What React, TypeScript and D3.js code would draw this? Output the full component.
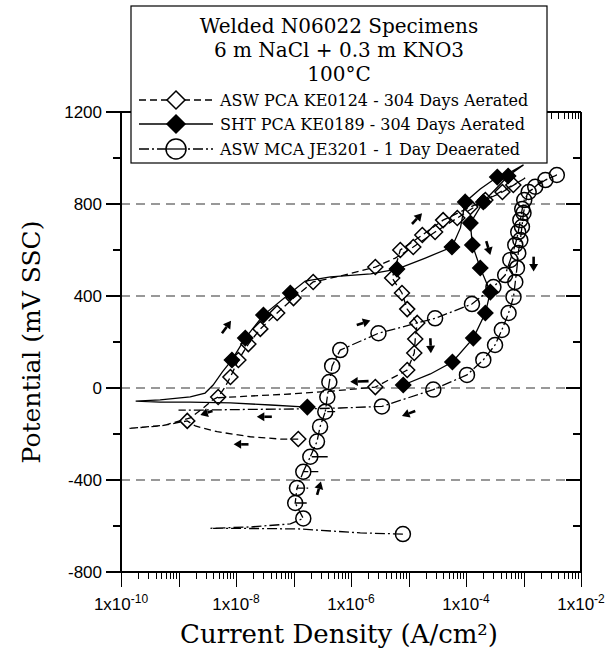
import React from 'react';
import * as d3 from 'd3';

// ---------- data ----------
const titleLines = ['Welded N06022 Specimens', '6 m NaCl + 0.3 m KNO3', '100°C'];
const seriesNames = [
  'ASW PCA KE0124 - 304 Days Aerated',
  'SHT PCA KE0189 - 304 Days Aerated',
  'ASW MCA JE3201 - 1 Day Deaerated',
];
const xLabelTicks = [1e-10, 1e-8, 1e-6, 1e-4, 1e-2];
const xLabelExps = ['-10', '-8', '-6', '-4', '-2'];
const yLabelTicks = [-800, -400, 0, 400, 800, 1200];
const yMinorTicks = [-600, -200, 200, 600, 1000];
const gridValues = [-400, 0, 400, 800];

// [current density A/cm², potential mV SSC, symbol shown (1) or not (0)]
const aswPca: number[][] = [
  [1.21e-7, -222, 1], [5.9e-8, -222, 0], [1.77e-8, -212, 0], [4.7e-9, -190, 0], [1.96e-9, -165, 0],
  [1.42e-9, -143, 1], [4.8e-10, -165, 0], [1.34e-10, -176, 0], [5.9e-10, -161, 0], [1.6e-9, -130, 0],
  [2.7e-9, -87, 0], [3.9e-9, -52, 0], [4.9e-9, -39, 1], [6.3e-9, 0, 0], [8.0e-9, 48, 1],
  [1.1e-8, 122, 1], [1.64e-8, 191, 1], [2.65e-8, 257, 1], [5.2e-8, 326, 1], [1.0e-7, 391, 1],
  [2.2e-7, 461, 1], [6.5e-7, 487, 0], [2.65e-6, 526, 1], [5.9e-6, 565, 0], [1.21e-5, 613, 1],
  [2.9e-5, 678, 1], [7.06e-5, 739, 1], [2.17e-4, 817, 1], [6.65e-4, 883, 1], [1.07e-3, 913, 0],
  [4.3e-4, 852, 1], [1.19e-4, 787, 1], [4.0e-5, 730, 1], [1.74e-5, 665, 1], [7.2e-6, 600, 1],
  [5.2e-6, 478, 1], [7.7e-6, 413, 1], [9.5e-6, 343, 1], [1.42e-5, 283, 1], [1.31e-5, 213, 1],
  [1.26e-5, 152, 1], [9.5e-6, 78, 1], [2.65e-6, 4, 1], [4.9e-7, -13, 0], [8.8e-8, -26, 0],
  [1.77e-8, -35, 0], [4.4e-9, -43, 0],
];
const shtPca: number[][] = [
  [1.74e-7, -83, 1], [4.0e-8, -74, 0], [8.0e-9, -65, 0], [1.6e-9, -61, 0], [4.8e-10, -61, 0],
  [1.8e-10, -57, 0], [4.8e-10, -52, 0], [1.6e-9, -39, 0], [2.9e-9, -22, 0], [4.0e-9, 13, 0],
  [5.8e-9, 70, 0], [8.5e-9, 122, 1], [1.45e-8, 217, 1], [3.0e-8, 317, 1], [8.8e-8, 413, 1],
  [1.6e-7, 465, 0], [4.4e-7, 483, 0], [2.2e-6, 496, 0], [6.3e-6, 517, 1], [1.96e-5, 565, 0],
  [5.7e-5, 613, 1], [8.0e-5, 696, 0], [9.7e-5, 809, 1], [1.77e-4, 865, 0], [3.5e-4, 917, 1],
  [6.4e-4, 943, 0], [1.0e-3, 970, 0],
  [5.4e-4, 922, 1], [2.0e-4, 809, 1], [1.19e-4, 717, 1], [1.29e-4, 622, 1], [1.77e-4, 522, 1],
  [2.65e-4, 417, 1], [2.17e-4, 326, 1], [1.34e-4, 217, 1], [5.8e-5, 113, 1], [2.4e-5, 61, 0],
  [8.1e-6, 13, 1],
];
const aswMca: number[][] = [
  [8.0e-6, -635, 1], [1.45e-6, -630, 0], [1.31e-7, -613, 0], [2.65e-8, -611, 0], [3.57e-9, -610, 0],
  [1.77e-8, -604, 0], [8.8e-8, -591, 0], [1.48e-7, -567, 1], [1.07e-7, -500, 1], [1.75e-7, -500, 0],
  [1.07e-7, -500, 0], [1.15e-7, -435, 1], [1.8e-7, -435, 0], [1.15e-7, -435, 0], [1.48e-7, -364, 1],
  [2.7e-7, -364, 0], [1.48e-7, -364, 0], [1.96e-7, -299, 1], [4.1e-7, -299, 0], [1.96e-7, -299, 0],
  [2.56e-7, -233, 1], [2.9e-7, -168, 1], [3.57e-7, -103, 1], [5.3e-7, -103, 0], [3.57e-7, -103, 0],
  [3.87e-7, -39, 1], [4.2e-7, 26, 1], [4.7e-7, 96, 1], [6.5e-7, 165, 1], [3.0e-6, 238, 1],
  [2.9e-5, 303, 1], [1.27e-4, 365, 1], [3.0e-4, 439, 1], [4.8e-4, 491, 1], [5.9e-4, 557, 1],
  [7.2e-4, 622, 1], [8.1e-4, 678, 1], [8.8e-4, 730, 1], [9.5e-4, 778, 1], [1.03e-3, 817, 1],
  [1.23e-3, 852, 1], [1.6e-3, 875, 1], [2.4e-3, 904, 1], [3.8e-3, 926, 1],
  [1.96e-3, 896, 0], [1.16e-3, 843, 0], [1.0e-3, 761, 1], [9.4e-4, 701, 1], [8.8e-4, 643, 1],
  [8.1e-4, 587, 1], [7.7e-4, 522, 1], [7.2e-4, 461, 1], [6.7e-4, 396, 1], [5.5e-4, 326, 1],
  [4.2e-4, 252, 1], [3.2e-4, 187, 1], [2.0e-4, 122, 1], [1.04e-4, 57, 1], [2.7e-5, -7, 1],
  [3.45e-6, -80, 1], [6.5e-7, -87, 0], [1.31e-7, -91, 0], [1.77e-8, -93, 0], [2.4e-9, -96, 0],
  [1.0e-9, -96, 0],
];

// scan-direction arrows: [i start, E start, i end, E end]
const arrows: number[][] = [
  [5.7e-9, 238, 8.2e-9, 292],
  [1.26e-6, 274, 2.17e-6, 293],
  [1.15e-5, 713, 1.72e-5, 760],
  [2.25e-4, 639, 2.65e-4, 578],
  [1.5e-3, 571, 1.5e-3, 506],
  [2.4e-5, 216, 2.45e-5, 151],
  [2.02e-6, 30, 9.7e-7, 27],
  [1.31e-5, -100, 7.7e-6, -122],
  [4.2e-8, -125, 2.3e-8, -125],
  [1.65e-8, -245, 9.1e-9, -245],
  [2.57e-7, -465, 3.0e-7, -407],
  [3.9e-9, -100, 2.4e-9, -117],
];

const series = [aswPca, shtPca, aswMca];
const styles = [
  { dash: '7,4', symbol: 'diamond', fill: 'none' },
  { dash: '', symbol: 'diamond', fill: '#000' },
  { dash: '10,3,2,3', symbol: 'circle', fill: 'none' },
];

const SERIF = '"DejaVu Serif", serif';
const SANS = '"Liberation Sans", Arial, sans-serif';

function Symbol({ kind, fill, cx, cy, s }: { kind: string; fill: string; cx: number; cy: number; s: number }) {
  if (kind === 'circle') {
    return <circle cx={cx} cy={cy} r={s} fill={fill} stroke="#000" strokeWidth={1.5} />;
  }
  return (
    <path
      d={`M${cx},${cy - s}L${cx + s},${cy}L${cx},${cy + s}L${cx - s},${cy}Z`}
      fill={fill}
      stroke="#000"
      strokeWidth={1.5}
    />
  );
}

export default function App() {
  const x = d3.scaleLog().domain([1e-10, 1e-2]).range([121, 581]);
  const y = d3.scaleLinear().domain([-800, 1200]).range([572, 112]);
  const line = d3.line<number[]>().x((d) => x(d[0])).y((d) => y(d[1]));
  const [x0, x1] = x.range();
  const [yb, yt] = y.range();

  const majorX = d3.range(-10, -1).map((e) => Math.pow(10, e));
  const minorX: number[] = [];
  d3.range(-10, -2).forEach((e) => {
    for (let k = 2; k <= 9; k++) minorX.push(k * Math.pow(10, e));
  });
  const px = (v: number) => Math.round(x(v)) + 0.5;

  const legRows = [100, 124, 149];
  const tickStyle = { stroke: '#000', strokeWidth: 1.2, shapeRendering: 'crispEdges' as const };

  return (
    <svg width={616} height={656} style={{ position: 'absolute', left: 0, top: 0, background: '#fff' }}>
      <rect x={0} y={0} width={616} height={656} fill="#fff" />
      {/* grid */}
      {gridValues.map((v) => (
        <line key={'g' + v} x1={x0} x2={x1} y1={y(v)} y2={y(v)} stroke="#333" strokeWidth={1.2} strokeDasharray="9,6" />
      ))}
      {/* frame */}
      <line x1={x0} x2={x1} y1={yb} y2={yb} {...tickStyle} />
      <line x1={x0} x2={x1} y1={yt} y2={yt} {...tickStyle} />
      <line x1={x0} x2={x0} y1={yt} y2={yb} {...tickStyle} />
      <line x1={x1} x2={x1} y1={yt} y2={yb} {...tickStyle} />
      {/* x ticks */}
      {majorX.map((v) => (
        <g key={'mx' + v}>
          <line x1={px(v)} x2={px(v)} y1={yb} y2={yb + 15} {...tickStyle} />
          <line x1={px(v)} x2={px(v)} y1={yt} y2={yt + 15} {...tickStyle} />
        </g>
      ))}
      {minorX.map((v) => (
        <g key={'nx' + v}>
          <line x1={px(v)} x2={px(v)} y1={yb} y2={yb + 7} {...tickStyle} />
          <line x1={px(v)} x2={px(v)} y1={yt} y2={yt + 7} {...tickStyle} />
        </g>
      ))}
      {/* y ticks */}
      {yLabelTicks.map((v) => (
        <g key={'my' + v}>
          <line x1={x0 - 15} x2={x0} y1={y(v)} y2={y(v)} {...tickStyle} />
          <line x1={x1 - 15} x2={x1} y1={y(v)} y2={y(v)} {...tickStyle} />
        </g>
      ))}
      {yMinorTicks.map((v) => (
        <g key={'ny' + v}>
          <line x1={x0 - 8} x2={x0} y1={y(v)} y2={y(v)} {...tickStyle} />
          <line x1={x1 - 8} x2={x1} y1={y(v)} y2={y(v)} {...tickStyle} />
        </g>
      ))}
      {/* tick labels */}
      {yLabelTicks.map((v) => (
        <text key={'ly' + v} x={102} y={y(v)} dy="0.35em" textAnchor="end" fontFamily={SANS} fontSize={17}>
          {v}
        </text>
      ))}
      {xLabelTicks.map((v, i) => (
        <text key={'lx' + v} x={x(v)} y={610} textAnchor="middle" fontFamily={SANS} fontSize={17}>
          1x10<tspan dy={-7} fontSize={12}>{xLabelExps[i]}</tspan>
        </text>
      ))}
      {/* axis titles */}
      <text x={339} y={643} textAnchor="middle" fontFamily={SERIF} fontSize={26}>
        Current Density (A/cm²)
      </text>
      <text
        transform={`translate(40,${(yt + yb) / 2}) rotate(-90)`}
        textAnchor="middle"
        fontFamily={SERIF}
        fontSize={25}
      >
        Potential (mV SSC)
      </text>
      {/* series */}
      {series.map((data, si) => (
        <g key={'s' + si}>
          <path
            d={line(data) || ''}
            fill="none"
            stroke="#000"
            strokeWidth={1.3}
            strokeDasharray={styles[si].dash || undefined}
          />
          {data
            .filter((d) => d[2] === 1)
            .map((d, j) => (
              <Symbol
                key={j}
                kind={styles[si].symbol}
                fill={styles[si].fill}
                cx={x(d[0])}
                cy={y(d[1])}
                s={7.5}
              />
            ))}
        </g>
      ))}
      {/* arrows */}
      {arrows.map((a, i) => {
        const ax1 = x(a[0]), ay1 = y(a[1]), ax2 = x(a[2]), ay2 = y(a[3]);
        const ang = Math.atan2(ay2 - ay1, ax2 - ax1);
        const hl = 7.5, hw = 4.5;
        const bx = ax2 - hl * Math.cos(ang), by = ay2 - hl * Math.sin(ang);
        const ox = -Math.sin(ang) * hw, oy = Math.cos(ang) * hw;
        return (
          <g key={'a' + i}>
            <line x1={ax1} y1={ay1} x2={bx} y2={by} stroke="#000" strokeWidth={2.6} />
            <path d={`M${ax2},${ay2}L${bx + ox},${by + oy}L${bx - ox},${by - oy}Z`} fill="#000" />
          </g>
        );
      })}
      {/* legend */}
      <rect x={131} y={6} width={416} height={157} fill="#fff" stroke="#000" strokeWidth={1.2} />
      {titleLines.map((t, i) => (
        <text key={'t' + i} x={339} y={33 + i * 24} textAnchor="middle" fontFamily={SERIF} fontSize={20}>
          {t}
        </text>
      ))}
      {seriesNames.map((n, i) => (
        <g key={'l' + i}>
          <line
            x1={139}
            x2={213}
            y1={legRows[i]}
            y2={legRows[i]}
            stroke="#000"
            strokeWidth={1.3}
            strokeDasharray={styles[i].dash || undefined}
          />
          <Symbol
            kind={styles[i].symbol}
            fill={i === 1 ? '#000' : '#fff'}
            cx={176}
            cy={legRows[i]}
            s={styles[i].symbol === 'circle' ? 10 : 9}
          />
          {styles[i].symbol === 'circle' && (
            <line x1={166} x2={186} y1={legRows[i]} y2={legRows[i]} stroke="#000" strokeWidth={1.3} />
          )}
          <text x={220} y={legRows[i] + 6} fontFamily={SERIF} fontSize={16}>
            {n}
          </text>
        </g>
      ))}
    </svg>
  );
}
